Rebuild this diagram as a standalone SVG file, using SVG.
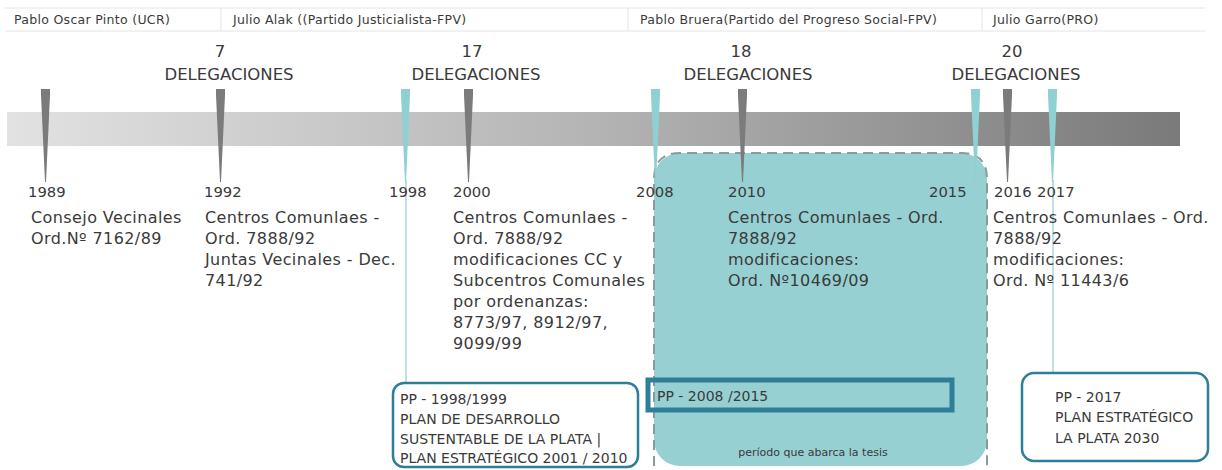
<svg xmlns="http://www.w3.org/2000/svg" width="1222" height="470" viewBox="0 0 1222 470">
<defs>
<linearGradient id="bar" x1="0" y1="0" x2="1" y2="0">
<stop offset="0" stop-color="#e2e2e2"/>
<stop offset="0.5" stop-color="#b4b4b4"/>
<stop offset="1" stop-color="#7a7a7a"/>
</linearGradient>
<style>
text{font-family:"DejaVu Sans","Liberation Sans",sans-serif;fill:#3a3a3a}
.hd{font-size:12.5px;letter-spacing:0.3px}
.dl{font-size:16.5px;text-anchor:middle}
.yr{font-size:14.8px}
.ds{font-size:16px;letter-spacing:0.4px}
.pp{font-size:14px}
.gm{fill:#7b7b7b}
.tm{fill:#8fd0d2}
.sep{stroke:#e4e4e4;stroke-width:1}
.box{fill:#fff;stroke:#2f7e98;stroke-width:2.5}
</style>
</defs>
<rect width="1222" height="470" fill="#fff"/>
<g id="header">
<line class="sep" x1="5" y1="8" x2="1205" y2="8"/>
<line class="sep" x1="5" y1="31" x2="1205" y2="31"/>
<line class="sep" x1="221" y1="8" x2="221" y2="31"/>
<line class="sep" x1="628" y1="8" x2="628" y2="31"/>
<line class="sep" x1="982" y1="8" x2="982" y2="31"/>
<text class="hd" x="14" y="24">Pablo Oscar Pinto (UCR)</text>
<text class="hd" x="233" y="24">Julio Alak ((Partido Justicialista-FPV)</text>
<text class="hd" x="640" y="24">Pablo Bruera(Partido del Progreso Social-FPV)</text>
<text class="hd" x="993" y="24">Julio Garro(PRO)</text>
</g>
<g id="delegaciones">
<text class="dl" x="220" y="57">7</text>
<text class="dl" x="229" y="80">DELEGACIONES</text>
<text class="dl" x="472" y="57">17</text>
<text class="dl" x="476" y="80">DELEGACIONES</text>
<text class="dl" x="741" y="57">18</text>
<text class="dl" x="748" y="80">DELEGACIONES</text>
<text class="dl" x="1012" y="57">20</text>
<text class="dl" x="1016" y="80">DELEGACIONES</text>
</g>
<g id="period">
<rect x="654" y="153" width="333" height="313" rx="26" fill="#96d0d2"/>
<path d="M654,466 L654,179 Q654,153 680,153 L961,153 Q987,153 987,179 L987,466" fill="none" stroke="#8a9a9a" stroke-width="2" stroke-dasharray="10,6"/>
<text x="813" y="456" font-size="11" text-anchor="middle" fill="#555">período que abarca la tesis</text>
</g>
<g id="timeline">
<rect x="7" y="112" width="1173" height="34" fill="url(#bar)"/>
</g>
<g id="connectors">
<line x1="406" y1="180" x2="406" y2="386" stroke="#a9d9db" stroke-width="1.5"/>
<line x1="1053" y1="180" x2="1053" y2="398" stroke="#a9d9db" stroke-width="1.5"/>
</g>
<g id="markers">
<polygon class="gm" points="41,89 50,89 50,95 46,182 45,182 41,95"/>
<polygon class="gm" points="216,89 225,89 225,95 221,182 220,182 216,95"/>
<polygon class="tm" points="401,89 410,89 410,95 406,182 405,182 401,95"/>
<polygon class="gm" points="464,89 473,89 473,95 469,182 468,182 464,95"/>
<polygon class="tm" points="651,89 660,89 660,95 656,182 655,182 651,95"/>
<polygon class="gm" points="738,89 747,89 747,95 743,182 742,182 738,95"/>
<polygon class="tm" points="971,89 980,89 980,95 976,182 975,182 971,95"/>
<polygon class="gm" points="1003,89 1012,89 1012,95 1008,182 1007,182 1003,95"/>
<polygon class="tm" points="1048,89 1057,89 1057,95 1053,182 1052,182 1048,95"/>
</g>
<g id="years">
<text class="yr" x="28" y="197">1989</text>
<text class="yr" x="204" y="197">1992</text>
<text class="yr" x="389" y="197">1998</text>
<text class="yr" x="453" y="197">2000</text>
<text class="yr" x="636" y="197">2008</text>
<text class="yr" x="728" y="197">2010</text>
<text class="yr" x="929" y="197">2015</text>
<text class="yr" x="994" y="197">2016</text>
<text class="yr" x="1037" y="197">2017</text>
</g>
<g id="desc-1989">
<text class="ds" x="31" y="223">Consejo Vecinales</text>
<text class="ds" x="31" y="244">Ord.Nº 7162/89</text>
</g>
<g id="desc-1992">
<text class="ds" x="205" y="223">Centros Comunlaes -</text>
<text class="ds" x="205" y="244">Ord. 7888/92</text>
<text class="ds" x="205" y="265">Juntas Vecinales - Dec.</text>
<text class="ds" x="205" y="286">741/92</text>
</g>
<g id="desc-2000">
<text class="ds" x="453" y="223">Centros Comunlaes -</text>
<text class="ds" x="453" y="244">Ord. 7888/92</text>
<text class="ds" x="453" y="265">modificaciones CC y</text>
<text class="ds" x="453" y="286">Subcentros Comunales</text>
<text class="ds" x="453" y="307">por ordenanzas:</text>
<text class="ds" x="453" y="328">8773/97,  8912/97,</text>
<text class="ds" x="453" y="349">9099/99</text>
</g>
<g id="desc-2010">
<text class="ds" x="728" y="223">Centros Comunlaes - Ord.</text>
<text class="ds" x="728" y="244">7888/92</text>
<text class="ds" x="728" y="265">modificaciones:</text>
<text class="ds" x="728" y="286">Ord. Nº10469/09</text>
</g>
<g id="desc-2017">
<text class="ds" x="993" y="223">Centros Comunlaes - Ord.</text>
<text class="ds" x="993" y="244">7888/92</text>
<text class="ds" x="993" y="265">modificaciones:</text>
<text class="ds" x="993" y="286">Ord. Nº 11443/6</text>
</g>
<g id="pp-1998">
<rect class="box" x="393" y="383" width="245" height="84" rx="11"/>
<text class="pp" x="400" y="404">PP - 1998/1999</text>
<text class="pp" x="400" y="424">PLAN DE DESARROLLO</text>
<text class="pp" x="400" y="444">SUSTENTABLE DE LA PLATA |</text>
<text class="pp" x="400" y="463">PLAN ESTRATÉGICO 2001 / 2010</text>
</g>
<g id="pp-2008">
<rect x="648" y="380" width="304" height="30" fill="none" stroke="#2f7e98" stroke-width="5"/>
<text class="pp" x="657" y="401">PP - 2008 /2015</text>
</g>
<g id="pp-2017">
<rect class="box" x="1022" y="373" width="186" height="88" rx="12"/>
<text class="pp" x="1055" y="402">PP - 2017</text>
<text class="pp" x="1055" y="422">PLAN ESTRATÉGICO</text>
<text class="pp" x="1055" y="443">LA PLATA 2030</text>
</g>
</svg>
